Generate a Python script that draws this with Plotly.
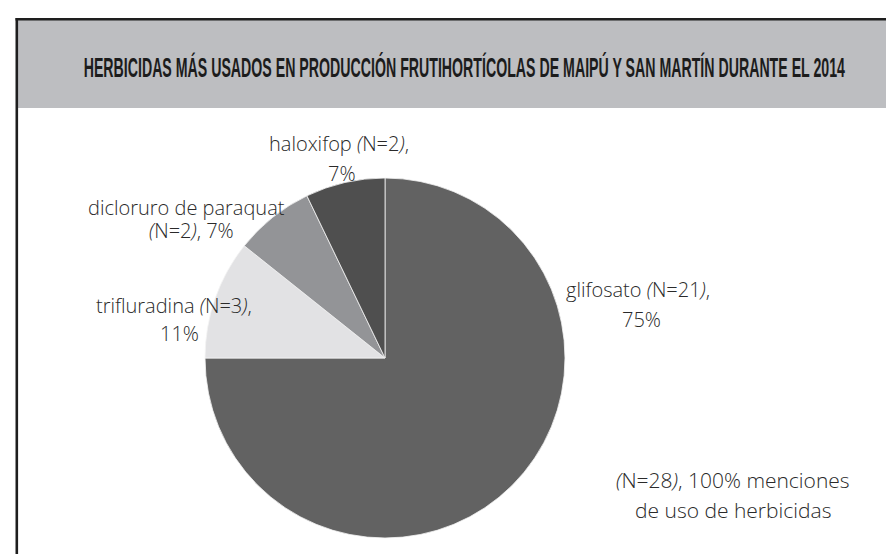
import plotly.graph_objects as go

# ---- data ----
labels = ["glifosato", "trifluradina", "dicloruro de paraquat", "haloxifop"]
counts = [21, 3, 2, 2]
colors = ["#626262", "#e2e2e4", "#939497", "#4f4f4f"]
title_text = "HERBICIDAS MÁS USADOS EN PRODUCCIÓN FRUTIHORTÍCOLAS DE MAIPÚ Y SAN MARTÍN DURANTE EL 2014"
total_note = "menciones<br>de uso de herbicidas"

W, H = 894, 554
total = sum(counts)

def px(x):
    return x / W

def py(y):
    return 1 - y / H

# pie geometry (pixels)
cx, cy, r = 377, 350, 180

fig = go.Figure()
fig.add_trace(go.Pie(
    labels=labels, values=counts, sort=False, direction="clockwise", rotation=0,
    marker=dict(colors=colors, line=dict(color="#f4f4f4", width=0.8)),
    textinfo="none", hoverinfo="none", showlegend=False,
    domain=dict(x=[px(cx - r), px(cx + r)], y=[py(cy + r), py(cy - r)]),
))

# label line positions (pixel centres): (x1, y1, x2, y2)
label_pos = {
    "glifosato": (630, 281, 633, 311),
    "trifluradina": (166, 297, 171, 325),
    "dicloruro de paraquat": (178, 199, 183, 223),
    "haloxifop": (331, 136, 334, 165),
}

lab_font = dict(family="Open Sans", size=20, color="#2a2a2a", weight=300)
ann = []
for lab, n in zip(labels, counts):
    pct = f"{round(100 * n / total)}%"
    nn = f"<i>(</i>N={n}<i>)</i>,"
    if lab == "dicloruro de paraquat":
        l1, l2 = lab, f"{nn} {pct}"
    else:
        l1, l2 = f"{lab} {nn}", pct
    x1, y1, x2, y2 = label_pos[lab]
    ann.append(dict(x=px(x1), y=py(y1), text=l1, showarrow=False, xref="paper", yref="paper",
                    xanchor="center", yanchor="middle", font=lab_font))
    ann.append(dict(x=px(x2), y=py(y2), text=l2, showarrow=False, xref="paper", yref="paper",
                    xanchor="center", yanchor="middle", font=lab_font))

line1, line2 = total_note.split("<br>")
note_font = dict(family="Open Sans", size=21, color="#2a2a2a", weight=300)
ann.append(dict(x=px(725), y=py(472), text=f"<i>(</i>N={total}<i>)</i>, 100% {line1}", showarrow=False,
                xref="paper", yref="paper", xanchor="center", yanchor="middle", font=note_font))
ann.append(dict(x=px(725), y=py(502), text=line2, showarrow=False,
                xref="paper", yref="paper", xanchor="center", yanchor="middle", font=note_font))

# title
ann.append(dict(x=px(457), y=py(60), text=title_text, showarrow=False, xref="paper", yref="paper",
                xanchor="center", yanchor="middle",
                font=dict(family="Liberation Sans", size=27, color="#1c1c1c", weight="bold")))

shapes = [
    dict(type="rect", xref="paper", yref="paper", x0=px(8.5), x1=px(W + 10), y0=py(100), y1=py(11),
         fillcolor="#bdbec1", line=dict(width=0), layer="below"),
    dict(type="line", xref="paper", yref="paper", x0=px(7.5), x1=px(W + 10), y0=py(11.3), y1=py(11.3),
         line=dict(color="#1e1e1e", width=2.6)),
    dict(type="line", xref="paper", yref="paper", x0=px(8.8), x1=px(8.8), y0=py(10), y1=py(H + 10),
         line=dict(color="#1e1e1e", width=2.6)),
]

fig.update_layout(
    width=W, height=H, margin=dict(l=0, r=0, t=0, b=0),
    paper_bgcolor="white", plot_bgcolor="white",
    annotations=ann, shapes=shapes,
)

post = """
var gd = document.getElementById('{plot_id}');
function squeezeTitle(){
  var texts = gd.querySelectorAll('text.annotation-text');
  texts.forEach(function(t){
    if (t.textContent.indexOf('HERBICIDAS') === 0) {
      t.removeAttribute('transform');
      var b = t.getBBox();
      var s = 762 / b.width;
      var c = b.x + b.width / 2;
      t.setAttribute('transform', 'translate(' + c + ',0) scale(' + s + ',1) translate(' + (-c) + ',0)');
    }
  });
}
squeezeTitle();
gd.on('plotly_afterplot', squeezeTitle);
"""

fig.write_html("out.html", post_script=post)
